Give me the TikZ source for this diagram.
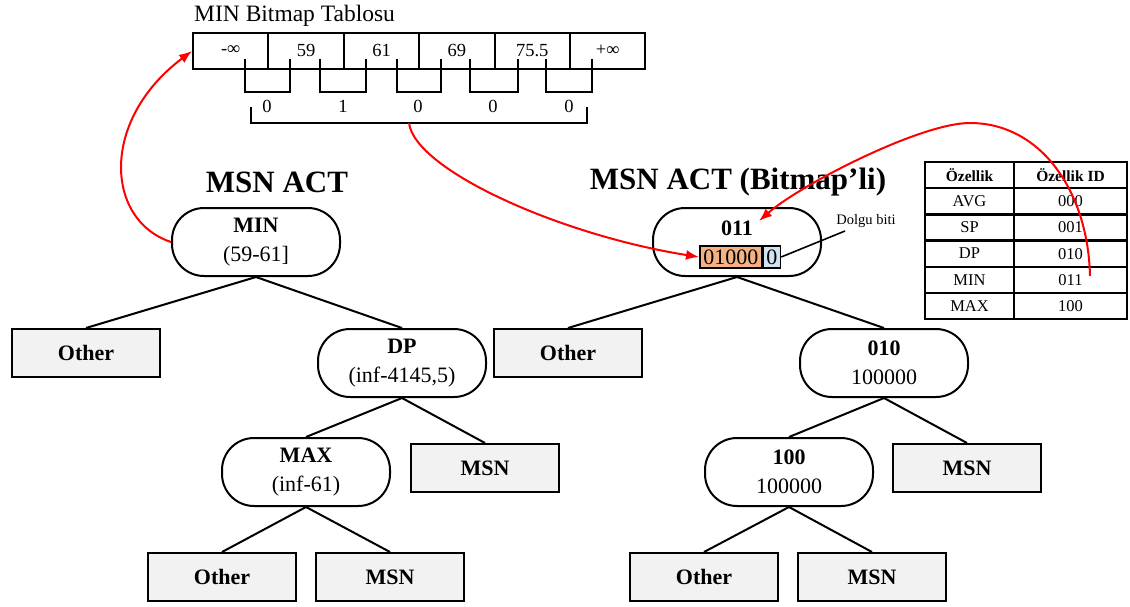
\documentclass[tikz,border=0pt]{standalone}
\usepackage{fontspec}
\setmainfont{Liberation Serif}
\usetikzlibrary{arrows.meta,calc}
\definecolor{boxgray}{HTML}{F2F2F2}
\definecolor{bitorange}{HTML}{F4B183}
\definecolor{bitblue}{HTML}{D0E3EF}
\tikzset{
  cond/.style={draw, line width=2pt, rounded corners=32pt, minimum width=168pt,
    minimum height=68pt, align=center, inner sep=0pt,
    font=\fontsize{22}{29}\selectfont},
  leaf/.style={draw, line width=2pt, fill=boxgray, minimum width=148pt,
    minimum height=48pt, inner sep=0pt, font=\bfseries\fontsize{22}{26}\selectfont},
  edge/.style={line width=2pt},
  bracket/.style={line width=2pt},
  redarrow/.style={red, line width=2pt, -{Latex[length=13pt,width=10pt]}},
  cell/.style={draw, line width=2pt, minimum width=75.4pt, minimum height=36pt,
    inner sep=0pt, font=\fontsize{18.5}{20}\selectfont},
  bitlabel/.style={font=\fontsize{18.5}{20}\selectfont, inner sep=0pt},
  bitbox/.style={draw, line width=1.6pt, minimum height=22pt, inner sep=0pt,
    font=\fontsize{22}{22}\selectfont},
  tcell/.style={draw, line width=2.2pt, minimum height=26pt, inner sep=0pt,
    font=\fontsize{16.5}{18}\selectfont},
  title/.style={font=\bfseries\fontsize{31}{34}\selectfont, inner sep=0pt},
}
\begin{document}
\begin{tikzpicture}[x=1pt,y=-1pt]
\useasboundingbox (0,0) rectangle (1130,606);

% ---- MIN bitmap table ----
\node[anchor=west, font=\fontsize{23.5}{25}\selectfont, inner sep=0pt] (btitle) at (194,16) {MIN Bitmap Tablosu};
\foreach \lab [count=\i from 0] in {-∞,59,61,69,75.5,+∞}{
  \node[cell] (c\i) at ({193+75.4*(\i+0.5)},51) {\raisebox{2pt}{\lab}};
}
% brackets joining neighbouring cells
\foreach \a/\b in {245/290,320/366,397/441,470/518,546/592}{
  \draw[bracket] (\a,59) -- (\a,92) -- (\b,92) -- (\b,59);
}
\foreach \x/\v [count=\i] in {267/0,343/1,418/0,493/0,569/0}{
  \node[bitlabel] (bit\i) at (\x,106) {\v};
}
\draw[bracket] (251,107) -- (251,123) -- (587,123) -- (587,107);
\coordinate (brk) at (409,123);

% ---- titles ----
\node[title] (ltitle) at (277,182) {MSN ACT};
\node[title] (rtitle) at (738,182) {MSN ACT (Bitmap’li)};

% ---- plain tree ----
\node[cond] (lroot) at (256,242) {\textbf{MIN}\\(59-61]};
\node[leaf] (lother) at (86,353) {Other};
\node[cond] (ldp) at (402,363) {\textbf{DP}\\(inf-4145,5)};
\node[cond] (lmax) at (306,472) {\textbf{MAX}\\(inf-61)};
\node[leaf] (lmsn) at (485,468) {MSN};
\node[leaf] (lother2) at (222,577) {Other};
\node[leaf] (lmsn2) at (390,577) {MSN};

\draw[edge] (lroot.south) -- (lother.north);
\draw[edge] (lroot.south) -- (ldp.north);
\draw[edge] (ldp.south) -- (lmax.north);
\draw[edge] (ldp.south) -- (lmsn.north);
\draw[edge] (lmax.south) -- (lother2.north);
\draw[edge] (lmax.south) -- (lmsn2.north);

% ---- bitmap tree ----
\node[cond] (rroot) at (737,242) {};
\node[font=\bfseries\fontsize{22}{26}\selectfont, inner sep=0pt] (rid) at (737,228) {011};
\node[bitbox, fill=bitorange, minimum width=62pt, anchor=west] (bma) at (699,257) {01000};
\node[bitbox, fill=bitblue, minimum width=17pt, anchor=west] (bmb) at (bma.east) {0};
\node[font=\fontsize{14.5}{16}\selectfont, inner sep=0pt] (dolgu) at (866,221) {Dolgu biti};
\coordinate (dolguend) at (845,231);
\draw[line width=1.6pt] (bmb.east) -- (dolguend);

\node[leaf] (rother) at (568,353) {Other};
\node[cond] (r010) at (884,363) {\textbf{010}\\100000};
\node[cond] (r100) at (789,472) {\textbf{100}\\100000};
\node[leaf] (rmsn) at (967,468) {MSN};
\node[leaf] (rother2) at (704,577) {Other};
\node[leaf] (rmsn2) at (872,577) {MSN};

\draw[edge] (rroot.south) -- (rother.north);
\draw[edge] (rroot.south) -- (r010.north);
\draw[edge] (r010.south) -- (r100.north);
\draw[edge] (r010.south) -- (rmsn.north);
\draw[edge] (r100.south) -- (rother2.north);
\draw[edge] (r100.south) -- (rmsn2.north);

% ---- feature id table ----
\node[tcell, minimum width=89pt, font=\bfseries\fontsize{15.5}{17}\selectfont] (th1) at (969.5,175) {Özellik};
\node[tcell, minimum width=113pt, font=\bfseries\fontsize{15.5}{17}\selectfont] (th2) at (1070.5,175) {Özellik ID};
\foreach \n/\v [count=\i] in {AVG/000,SP/001,DP/010,MIN/011,MAX/100}{
  \node[tcell, minimum width=89pt] (tn\i) at (969.5,{175+26.2*\i}) {\n};
  \node[tcell, minimum width=113pt] (tv\i) at (1070.5,{175+26.2*\i}) {\v};
}

% ---- red links ----
\draw[redarrow] (lroot.west) .. controls (105,220) and (100,120) .. (c0.west);
\draw[redarrow] (brk) .. controls (415,170) and (560,235) .. (bma.west);
\coordinate (arcstart) at (1090,276);
\coordinate (arctop) at (970,123);
\coordinate (idtip) at (759,221);
\draw[redarrow] (arcstart) .. controls (1088,190) and (1040,123) .. (arctop)
  .. controls (920,123) and (800,185) .. (idtip);
\end{tikzpicture}
\end{document}
